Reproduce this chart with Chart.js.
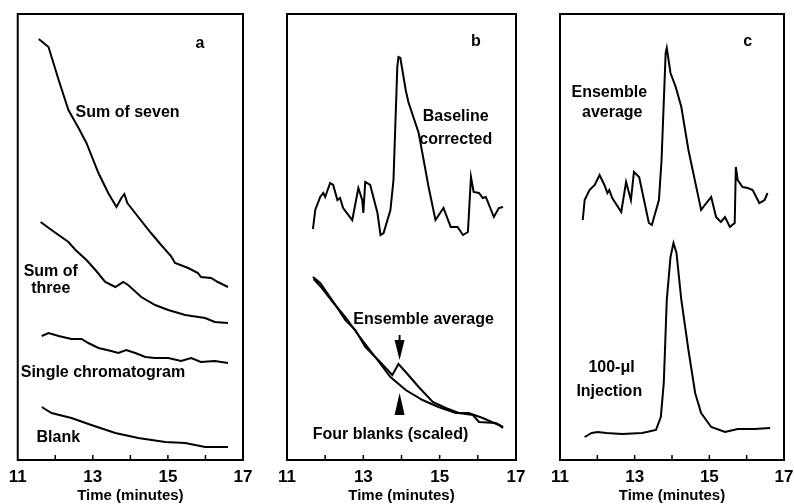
<!DOCTYPE html>
<html>
<head>
<meta charset="utf-8">
<script src="https://cdn.jsdelivr.net/npm/chart.js@4.4.0/dist/chart.umd.min.js"></script>
<style>
  body { margin: 0; background: #fff; overflow: hidden; }
  #wrap { position: relative; width: 794px; height: 504px; overflow: hidden; }
  .panel { position: absolute; top: 0; height: 504px; }
</style>
</head>
<body>
<div id="wrap">
  <div class="panel" style="left:0;width:265px"><canvas id="chart-a" width="265" height="504"></canvas></div>
  <div class="panel" style="left:265px;width:271px"><canvas id="chart-b" width="271" height="504"></canvas></div>
  <div class="panel" style="left:530px;width:274px"><canvas id="chart-c" width="274" height="504"></canvas></div>
</div>
<script>
// x axis (minutes) and labelled ticks
const timeMin = 11;
const timeMax = 17;
const labelledTicks = [11, 13, 15, 17];
const signalMax = 44.6; // arbitrary detector units

// Panel a
const sevenTime = [11.56, 11.82, 12.09, 12.35, 12.62, 12.83, 13.15, 13.41, 13.63, 13.76, 13.84, 13.92, 14.21, 14.55, 14.82, 15.08, 15.19, 15.54, 15.80, 15.88, 16.15, 16.33, 16.60];
const sevenSignal = [42.1, 41.3, 38.0, 35.0, 33.2, 31.7, 28.7, 26.7, 25.3, 26.2, 26.6, 25.7, 24.3, 22.7, 21.5, 20.4, 19.7, 19.2, 18.7, 18.3, 18.2, 17.8, 17.3];
const threeTime = [11.61, 11.90, 12.35, 12.54, 12.83, 13.07, 13.33, 13.60, 13.81, 13.94, 14.29, 14.66, 15.01, 15.46, 15.99, 16.25, 16.60];
const threeSignal = [23.8, 23.0, 21.8, 21.0, 20.0, 19.0, 17.8, 17.3, 17.8, 17.5, 16.3, 15.5, 15.0, 14.5, 14.2, 13.8, 13.7];
const singleTime = [11.64, 11.82, 12.09, 12.43, 12.70, 12.88, 13.15, 13.49, 13.68, 13.89, 14.13, 14.40, 14.66, 15.01, 15.35, 15.62, 15.88, 16.25, 16.60];
const singleSignal = [12.4, 12.7, 12.4, 12.1, 12.1, 11.7, 11.2, 10.9, 10.7, 11.0, 10.7, 10.3, 10.2, 10.2, 9.9, 10.2, 9.8, 9.9, 9.7];
const blankTime = [11.64, 11.90, 12.43, 12.96, 13.60, 14.21, 14.93, 15.46, 15.99, 16.60];
const blankSignal = [5.3, 4.7, 4.2, 3.5, 2.7, 2.2, 1.8, 1.7, 1.3, 1.3];

// Panel b
const correctedTime = [11.68, 11.74, 11.87, 11.95, 12.00, 12.13, 12.21, 12.32, 12.39, 12.47, 12.71, 12.87, 12.97, 13.00, 13.05, 13.18, 13.37, 13.45, 13.53, 13.71, 13.79, 13.89, 13.92, 13.97, 14.11, 14.18, 14.45, 14.71, 14.89, 15.10, 15.29, 15.47, 15.61, 15.74, 15.82, 15.89, 16.03, 16.13, 16.21, 16.42, 16.55, 16.66];
const correctedSignal = [23.1, 25.0, 26.3, 26.7, 26.3, 27.7, 27.5, 26.0, 26.2, 25.2, 24.0, 27.2, 26.0, 24.7, 27.8, 27.5, 24.7, 22.5, 22.7, 25.0, 28.0, 39.3, 40.3, 40.2, 37.0, 35.8, 32.7, 27.3, 24.0, 25.2, 23.3, 23.3, 22.5, 22.8, 28.3, 26.8, 26.7, 26.2, 26.3, 24.3, 25.2, 25.3];
const averageTime = [11.68, 11.87, 12.18, 12.53, 12.79, 13.05, 13.39, 13.71, 13.76, 13.92, 14.11, 14.45, 14.82, 15.16, 15.50, 15.87, 16.03, 16.47, 16.66];
const averageSignal = [18.3, 17.7, 16.0, 14.0, 13.0, 11.3, 10.0, 8.7, 8.5, 9.6, 8.8, 7.3, 5.8, 5.2, 4.7, 4.5, 3.8, 3.7, 3.3];
const blanksTime = [11.70, 11.89, 12.20, 12.55, 12.81, 13.07, 13.41, 13.71, 14.11, 14.55, 14.97, 15.42, 15.76, 16.13, 16.55, 16.66];
const blanksSignal = [18.1, 17.3, 15.8, 14.2, 12.8, 11.5, 9.8, 8.3, 7.0, 6.0, 5.3, 4.7, 4.7, 4.2, 3.5, 3.2];

// Panel c
const ensembleTime = [11.61, 11.66, 11.79, 11.93, 12.06, 12.19, 12.27, 12.32, 12.40, 12.64, 12.77, 12.85, 12.90, 12.98, 13.12, 13.25, 13.38, 13.46, 13.65, 13.72, 13.83, 13.86, 13.96, 14.10, 14.25, 14.44, 14.78, 14.92, 15.05, 15.18, 15.31, 15.42, 15.55, 15.68, 15.71, 15.76, 15.89, 16.03, 16.16, 16.34, 16.48, 16.56];
const ensembleSignal = [24.0, 26.0, 27.0, 27.5, 28.5, 27.5, 26.7, 27.0, 26.2, 24.8, 27.8, 26.7, 26.0, 28.8, 28.3, 26.0, 23.7, 23.5, 26.0, 30.0, 40.7, 41.2, 38.7, 37.3, 35.3, 31.0, 25.0, 25.7, 26.3, 24.3, 23.8, 24.3, 23.3, 23.7, 29.3, 28.0, 27.3, 27.2, 27.0, 25.7, 26.0, 26.7];
const injectionTime = [11.66, 11.85, 12.01, 12.24, 12.67, 13.20, 13.57, 13.70, 13.78, 13.86, 13.96, 14.04, 14.12, 14.25, 14.44, 14.62, 14.78, 15.05, 15.42, 15.76, 16.21, 16.63];
const injectionSignal = [2.3, 2.7, 2.8, 2.7, 2.6, 2.7, 3.0, 4.3, 7.7, 16.0, 20.3, 21.7, 20.7, 16.0, 11.0, 6.7, 4.7, 3.3, 2.8, 3.1, 3.1, 3.2];

const textFont = 'bold 16px "Liberation Sans", Arial, sans-serif';

function series(times, values) {
    return times.map((t, i) => ({ x: t, y: values[i] }));
}

function trace(times, values) {
    return {
        data: series(times, values),
        borderColor: '#000',
        borderWidth: 2,
        pointRadius: 0,
        tension: 0,
        fill: false
    };
}

// frame, inward ticks, text labels and arrows
const framePlugin = {
    id: 'frame',
    afterDraw(chart, args, opts) {
        const ctx = chart.ctx;
        const area = chart.chartArea;
        const xs = chart.scales.x;
        const ys = chart.scales.y;
        ctx.save();
        ctx.strokeStyle = '#000';
        ctx.lineWidth = 2;
        ctx.strokeRect(area.left, area.top, area.right - area.left, area.bottom - area.top);
        ctx.lineWidth = 1.5;
        for (let t = timeMin + 1; t < timeMax; t++) {
            const px = xs.getPixelForValue(t);
            ctx.beginPath();
            ctx.moveTo(px, area.bottom);
            ctx.lineTo(px, area.bottom - 5);
            ctx.stroke();
        }
        ctx.fillStyle = '#000';
        ctx.font = textFont;
        ctx.textBaseline = 'middle';
        (opts.notes || []).forEach(n => {
            ctx.textAlign = n.align || 'center';
            ctx.fillText(n.text, xs.getPixelForValue(n.x), ys.getPixelForValue(n.y));
        });
        (opts.arrows || []).forEach(a => {
            const px = xs.getPixelForValue(a.x);
            const base = ys.getPixelForValue(a.base);
            const tip = ys.getPixelForValue(a.tip);
            if (a.tail !== undefined) {
                ctx.lineWidth = 2;
                ctx.beginPath();
                ctx.moveTo(px, ys.getPixelForValue(a.tail));
                ctx.lineTo(px, base);
                ctx.stroke();
            }
            ctx.beginPath();
            ctx.moveTo(px - 5, base);
            ctx.lineTo(px + 5, base);
            ctx.lineTo(px, tip);
            ctx.closePath();
            ctx.fill();
        });
        ctx.restore();
    }
};

function makePanel(id, padding, datasets, notes, arrows) {
    const ctx = document.getElementById(id).getContext('2d');
    return new Chart(ctx, {
        type: 'line',
        data: { datasets: datasets },
        options: {
            responsive: false,
            animation: false,
            layout: { padding: padding },
            plugins: {
                legend: { display: false },
                tooltip: { enabled: false },
                frame: { notes: notes, arrows: arrows }
            },
            scales: {
                x: {
                    type: 'linear',
                    min: timeMin,
                    max: timeMax,
                    grid: { display: false, drawTicks: false },
                    border: { display: false },
                    ticks: {
                        stepSize: 1,
                        autoSkip: false,
                        maxRotation: 0,
                        padding: 8.75,
                        color: '#000',
                        font: { family: '"Liberation Sans", Arial, sans-serif', size: 17, weight: 'bold', lineHeight: 1 },
                        callback: v => labelledTicks.includes(v) ? String(v) : ''
                    },
                    title: {
                        display: true,
                        text: 'Time (minutes)',
                        color: '#000',
                        padding: { top: 0, bottom: 6.5 },
                        font: { family: '"Liberation Sans", Arial, sans-serif', size: 15, weight: 'bold', lineHeight: 0.2 }
                    }
                },
                y: { display: false, min: 0, max: signalMax }
            }
        },
        plugins: [framePlugin]
    });
}

makePanel('chart-a', { left: 17, right: 22, top: 14, bottom: 0 }, [
    trace(sevenTime, sevenSignal),
    trace(threeTime, threeSignal),
    trace(singleTime, singleSignal),
    trace(blankTime, blankSignal)
], [
    { text: 'a', x: 15.85, y: 41.6 },
    { text: 'Sum of seven', x: 12.54, y: 34.7, align: 'left' },
    { text: 'Sum of', x: 11.88, y: 18.8 },
    { text: 'three', x: 11.88, y: 17.1 },
    { text: 'Single chromatogram', x: 11.08, y: 8.7, align: 'left' },
    { text: 'Blank', x: 11.5, y: 2.2, align: 'left' }
], []);

makePanel('chart-b', { left: 22, right: 20, top: 14, bottom: 0 }, [
    trace(correctedTime, correctedSignal),
    trace(averageTime, averageSignal),
    trace(blanksTime, blanksSignal)
], [
    { text: 'b', x: 15.95, y: 41.8 },
    { text: 'Baseline', x: 15.42, y: 34.3 },
    { text: 'corrected', x: 15.42, y: 32.0 },
    { text: 'Ensemble average', x: 14.58, y: 14.0 },
    { text: 'Four blanks (scaled)', x: 13.71, y: 2.5 }
], [
    { x: 13.95, tail: 12.5, base: 12.0, tip: 10.0 },
    { x: 13.95, base: 4.5, tip: 6.7 }
]);

makePanel('chart-c', { left: 30, right: 20, top: 14, bottom: 0 }, [
    trace(ensembleTime, ensembleSignal),
    trace(injectionTime, injectionSignal)
], [
    { text: 'c', x: 16.03, y: 41.8 },
    { text: 'Ensemble', x: 12.32, y: 36.7 },
    { text: 'average', x: 12.40, y: 34.7 },
    { text: '100-\u03bcl', x: 12.38, y: 9.2 },
    { text: 'Injection', x: 12.32, y: 6.8 }
], []);
</script>
</body>
</html>
